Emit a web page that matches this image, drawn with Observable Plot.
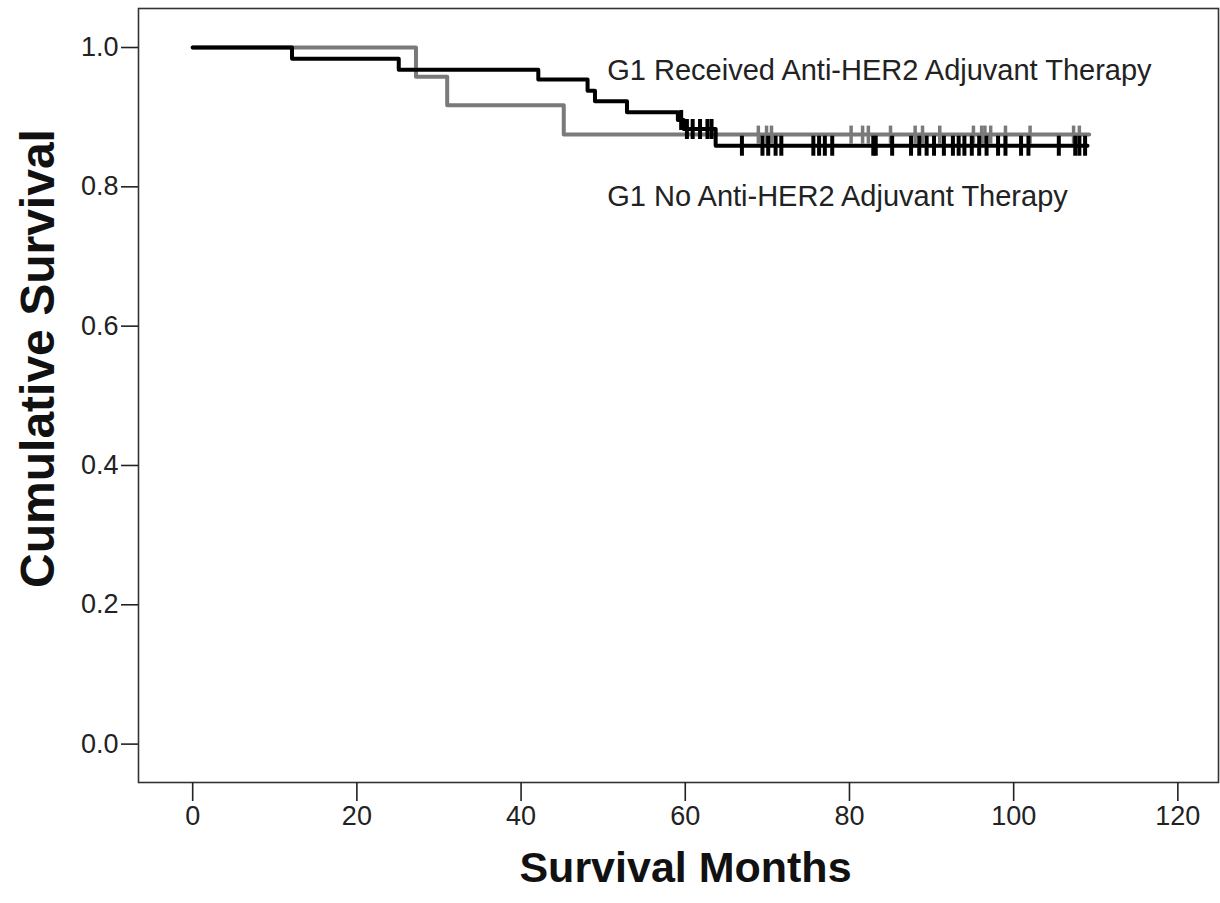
<!DOCTYPE html>
<html><head><meta charset="utf-8">
<script src="https://cdn.jsdelivr.net/npm/d3@7"></script>
<script src="https://cdn.jsdelivr.net/npm/@observablehq/plot@0.6"></script>
<style>body{margin:0;background:#fff;} #chart svg{display:block;}</style>
</head><body><div id="chart"></div>
<script>
const groups = ["G1 Received Anti-HER2 Adjuvant Therapy", "G1 No Anti-HER2 Adjuvant Therapy"];
// Kaplan-Meier steps (months, cumulative survival)
const receivedTimes = [0, 12.1, 25.1, 42.1, 48.1, 49.0, 52.9, 59.1, 59.8, 63.7, 109.0];
const receivedSurv  = [1.0, 0.984, 0.968, 0.954, 0.938, 0.923, 0.907, 0.896, 0.883, 0.859, 0.859];
const receivedCensored = [59.5, 60.2, 60.9, 61.8, 62.7, 63.2, 66.9, 69.4, 70.1, 71.0, 71.7, 75.6, 76.3, 77.0, 77.9, 82.9, 83.2, 85.2, 87.5, 88.5, 89.4, 90.3, 91.5, 92.6, 93.3, 94.0, 94.9, 95.8, 96.7, 98.1, 99.0, 100.9, 101.8, 105.5, 107.5, 108.0, 108.7];
const noTimes = [0, 27.2, 31.0, 45.2, 109.2];
const noSurv  = [1.0, 0.958, 0.917, 0.875, 0.875];
const noCensored = [68.9, 69.9, 70.5, 80.2, 81.6, 82.3, 85.0, 88.0, 88.9, 91.0, 95.1, 96.1, 96.5, 97.2, 99.0, 102.0, 107.3, 108.0];
const xTicks = [0, 20, 40, 60, 80, 100, 120];
const yTicks = [0.0, 0.2, 0.4, 0.6, 0.8, 1.0];
const labelMonths = [50.5, 50.5];
const labelSurv = [0.967, 0.786];
const xTitle = "Survival Months";
const yTitle = "Cumulative Survival";

const colors = {[groups[0]]: "#000000", [groups[1]]: "#7a7a7a"};

function steps(times, surv, group) {
  return times.map((t, i) => ({t, s: surv[i], group}));
}
function survAt(times, surv, t) {
  let v = surv[0];
  for (let i = 0; i < times.length; i++) if (times[i] <= t) v = surv[i];
  return v;
}
const recSteps = steps(receivedTimes, receivedSurv, groups[0]);
const noSteps = steps(noTimes, noSurv, groups[1]);
const recCens = receivedCensored.map(t => ({t, s: survAt(receivedTimes, receivedSurv, t)}));
const noCens = noCensored.map(t => ({t, s: survAt(noTimes, noSurv, t)}));
const labels = groups.map((g, i) => ({t: labelMonths[i], s: labelSurv[i], text: g}));

const vbar = {draw(ctx, size) { const h = Math.sqrt(size / Math.PI); ctx.moveTo(0, -h); ctx.lineTo(0, h); }};
const font = "'Liberation Sans', Arial, sans-serif";

const chart = Plot.plot({
  width: 1220,
  height: 903,
  marginLeft: 138,
  marginRight: 2,
  marginTop: 8,
  marginBottom: 121,
  style: {fontFamily: font, background: "#fff"},
  x: {domain: [-6.6, 124.95], ticks: xTicks},
  y: {domain: [-0.0551, 1.056], ticks: yTicks},
  marks: [
    Plot.frame({stroke: "#333", strokeWidth: 1.6}),
    Plot.axisX({ticks: xTicks, tickSize: 19, tickPadding: 4, fontSize: 27, color: "#222", strokeWidth: 1.6, label: null, fontFamily: font}),
    Plot.axisY({ticks: yTicks, tickSize: 17, tickPadding: 3, fontSize: 27, color: "#222", strokeWidth: 1.6, tickFormat: d3.format(".1f"), label: null, fontFamily: font}),
    Plot.line(noSteps, {x: "t", y: "s", curve: "step-after", stroke: colors[groups[1]], strokeWidth: 4}),
    Plot.dot(noCens, {x: "t", y: "s", symbol: vbar, r: 9, fill: "none", stroke: colors[groups[1]], strokeWidth: 3.5}),
    Plot.line(recSteps, {x: "t", y: "s", curve: "step-after", stroke: colors[groups[0]], strokeWidth: 4}),
    Plot.dot(recCens, {x: "t", y: "s", symbol: vbar, r: 10, fill: "none", stroke: colors[groups[0]], strokeWidth: 4}),
    Plot.text(labels, {x: "t", y: "s", text: "text", textAnchor: "start", fontSize: 29, fill: "#222", fontFamily: font}),
    Plot.text([xTitle], {frameAnchor: "bottom", textAnchor: "middle", dx: 7, dy: 99, fontSize: 43, fontWeight: "bold", fill: "#111", fontFamily: font}),
    Plot.text([yTitle], {frameAnchor: "left", textAnchor: "middle", rotate: -90, dx: -100, dy: -37, fontSize: 48, fontWeight: "bold", fill: "#111", fontFamily: font})
  ]
});
document.getElementById("chart").appendChild(chart);
</script>
</body></html>
